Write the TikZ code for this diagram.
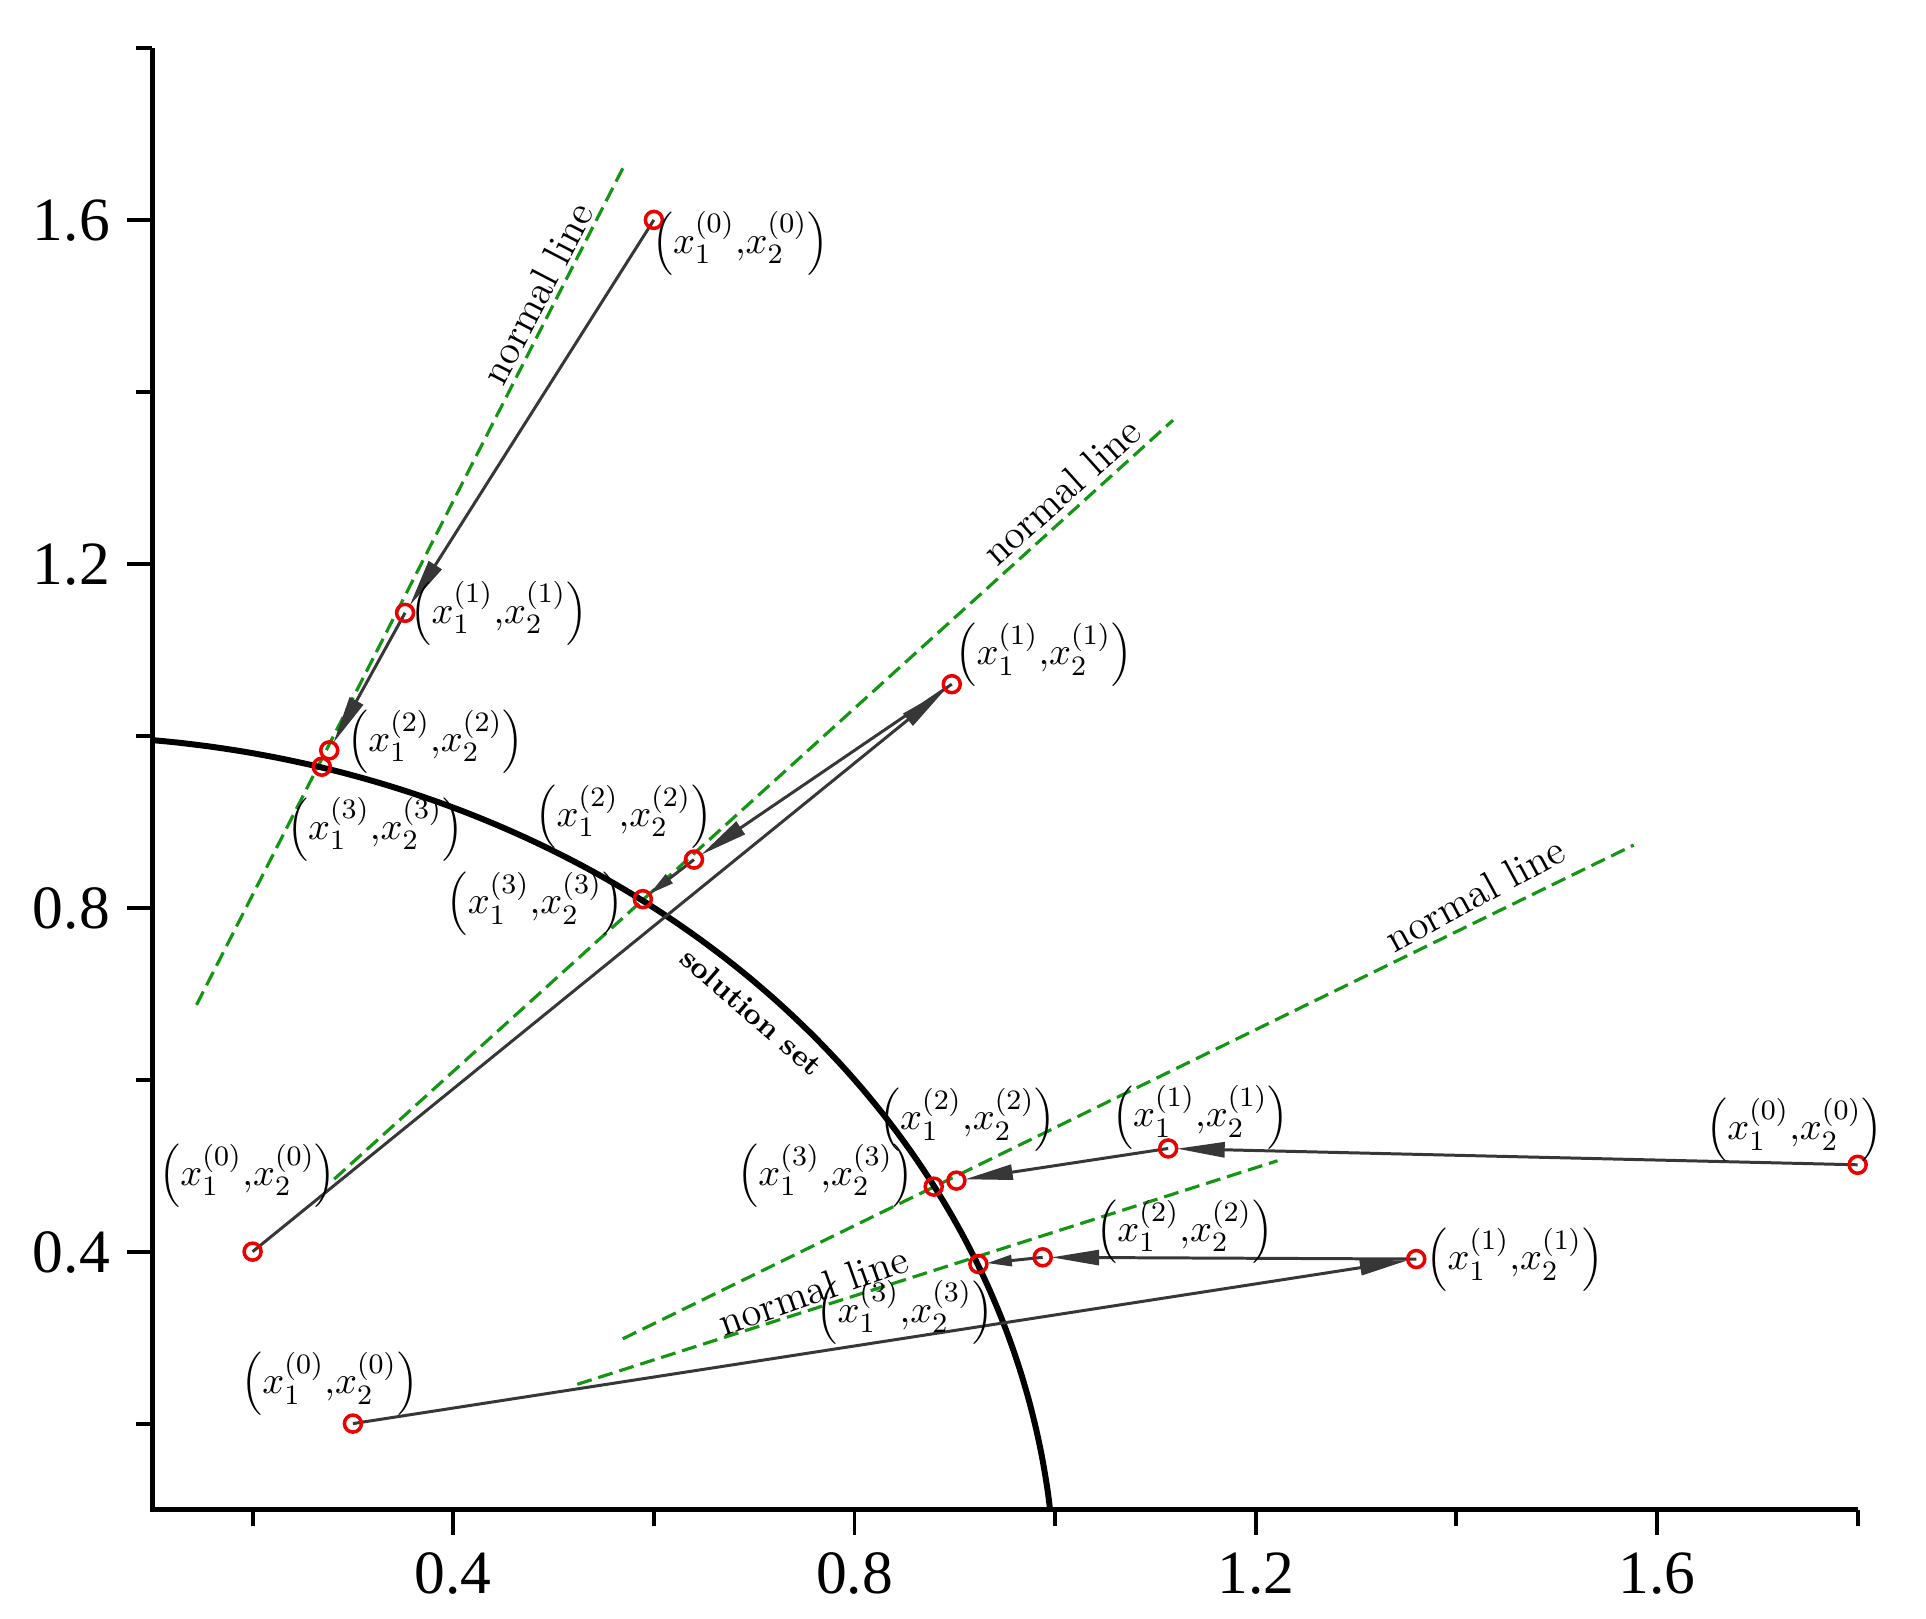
\documentclass[tikz,border=0pt]{standalone}
\usepackage{fontspec}
\newfontfamily\tickfont{Liberation Serif}
\usetikzlibrary{arrows.meta}
\definecolor{ngreen}{RGB}{20,150,20}
\definecolor{arrgray}{RGB}{55,55,55}
\definecolor{ptred}{RGB}{235,0,0}
\newcommand\pxy[1]{$\left(x_1^{(#1)}{,}x_2^{(#1)}\right)$}
\begin{document}
\begin{tikzpicture}[x=10.032cm,y=8.598cm,
  axisline/.style={line width=1.3pt},
  tickline/.style={line width=1.1pt},
  ticklab/.style={font=\tickfont\fontsize{17.5}{20}\selectfont, inner sep=0pt, text depth=0pt},
  normalline/.style={ngreen, dash pattern=on 0.15cm off 0.07cm, line width=0.9pt},
  solcurve/.style={line width=1.7pt},
  iter/.style={arrgray, line width=0.85pt, -{Triangle[length=0.48cm,width=0.15cm]}, shorten >=0.085cm},
  iters/.style={arrgray, line width=0.85pt, -{Triangle[length=0.25cm,width=0.11cm]}, shorten >=0.085cm},
  ptmark/.style={draw=ptred, line width=1pt, circle, minimum size=0.17cm, inner sep=0pt},
  lab/.style={font=\fontsize{10.8}{12}\selectfont, inner sep=0pt},
  nlab/.style={font=\fontsize{11.6}{14}\selectfont, inner sep=0pt},
  slab/.style={font=\fontsize{8.5}{10}\selectfont\bfseries, inner sep=0pt}
]
\useasboundingbox (-0.0518,-0.0272) rectangle (1.8681,1.8558);

% axes
\coordinate (O) at (0.1,0.1);
\coordinate (Ytop) at (0.1,1.8);
\coordinate (Xend) at (1.8,0.1);
\draw[axisline] (Ytop) -- (O) -- (Xend);
\foreach \v/\n in {0.4/a,0.8/b,1.2/c,1.6/d}{
  \draw[tickline] (\v,0.1) -- ++(0,-0.25cm);
  \node[ticklab] (xl\n) at (\v,0.0257) {\v};
  \draw[tickline] (0.1,\v) -- ++(-0.25cm,0);
  \node[ticklab, anchor=east] (yl\n) at (0.0584,\v) {\v};
}
\foreach \v in {0.2,0.6,1.0,1.4,1.8}{
  \draw[tickline] (\v,0.1) -- ++(0,-0.16cm);
  \draw[tickline] (0.1,\v) -- ++(-0.16cm,0);
}

% points
\coordinate (A0) at (0.600,1.600);
\coordinate (A1) at (0.352,1.143);
\coordinate (A2) at (0.2764,0.983);
\coordinate (A3) at (0.269,0.964);
\coordinate (B0) at (0.200,0.400);
\coordinate (B1) at (0.897,1.060);
\coordinate (B2) at (0.640,0.856);
\coordinate (B3) at (0.589,0.810);
\coordinate (C0) at (1.800,0.501);
\coordinate (C1) at (1.1127,0.520);
\coordinate (C2) at (0.9016,0.4826);
\coordinate (C3) at (0.879,0.4756);
\coordinate (D0) at (0.300,0.200);
\coordinate (D1) at (1.360,0.3914);
\coordinate (D2) at (0.9876,0.3934);
\coordinate (D3) at (0.9235,0.3856);

% normal lines
\coordinate (nA1) at (0.1441,0.687);  \coordinate (nA2) at (0.5690,1.660);
\coordinate (nB1) at (0.2813,0.4843); \coordinate (nB2) at (1.1175,1.3671);
\coordinate (nC1) at (0.5690,0.2986); \coordinate (nC2) at (1.5767,0.8729);
\coordinate (nD1) at (0.5237,0.2457); \coordinate (nD2) at (1.2216,0.5057);
\draw[normalline] (nA1) -- (nA2);
\draw[normalline] (nB1) -- (nB2);
\draw[normalline] (nC1) -- (nC2);
\draw[normalline] (nD1) -- (nD2);

% solution set
\draw[solcurve] plot[domain=84.26:5.74, samples=120, smooth] ({cos(\x)},{sin(\x)});

% iterations
\draw[iter] (A0) -- (A1);
\draw[iter] (A1) -- (A2);
\draw[iter] (B0) -- (B1);
\draw[iter] (B1) -- (B2);
\draw[iters] (B2) -- (B3);
\draw[iter] (C0) -- (C1);
\draw[iter] (C1) -- (C2);
\draw[iter] (D0) -- (D1);
\draw[iter] (D1) -- (D2);
\draw[iters] (D2) -- (D3);

% markers
\foreach \p in {A0,A1,A2,A3,B0,B1,B2,B3,C0,C1,C2,C3,D0,D1,D2,D3}{
  \node[ptmark] (m\p) at (\p) {};
}

% point labels
\node[lab] (lA0) at (0.6862,1.5727) {\pxy{0}};
\node[lab] (lA1) at (0.4455,1.1424) {\pxy{1}};
\node[lab] (lA2) at (0.3824,0.9931) {\pxy{2}};
\node[lab] (lA3) at (0.3223,0.8911) {\pxy{3}};
\node[lab] (lB0) at (0.1951,0.4883) {\pxy{0}};
\node[lab] (lB1) at (0.9888,1.0939) {\pxy{1}};
\node[lab] (lB2) at (0.5702,0.9059) {\pxy{2}};
\node[lab] (lB3) at (0.4816,0.8043) {\pxy{3}};
\node[lab] (lC0) at (1.7371,0.5414) {\pxy{0}};
\node[lab] (lC1) at (1.1449,0.5563) {\pxy{1}};
\node[lab] (lC2) at (0.9126,0.5531) {\pxy{2}};
\node[lab] (lC3) at (0.7713,0.4883) {\pxy{3}};
\node[lab] (lD0) at (0.2769,0.2460) {\pxy{0}};
\node[lab] (lD1) at (1.4582,0.3903) {\pxy{1}};
\node[lab] (lD2) at (1.1292,0.4231) {\pxy{2}};
\node[lab] (lD3) at (0.8503,0.3294) {\pxy{3}};

% normal line labels
\node[nlab, rotate=62.5] (tA) at (0.4833,1.5149) {normal line};
\node[nlab, rotate=42] (tB) at (1.0061,1.2843) {normal line};
\node[nlab, rotate=28.5] (tC) at (1.4184,0.8160) {normal line};
\node[nlab, rotate=19.5] (tD) at (0.7587,0.3554) {normal line};
\node[slab, rotate=-41] (tS) at (0.6976,0.6791) {solution set};
\end{tikzpicture}
\end{document}
